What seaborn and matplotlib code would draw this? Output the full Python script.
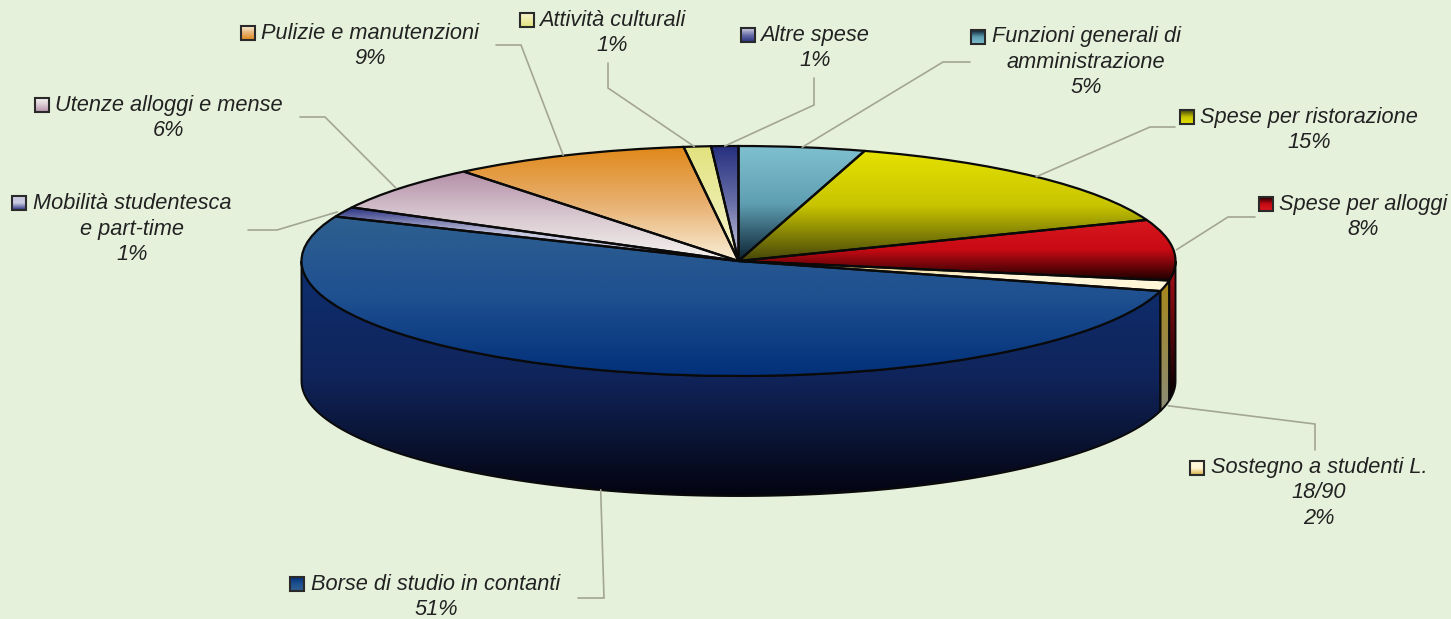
import numpy as np
import matplotlib
matplotlib.use("Agg")
import matplotlib.pyplot as plt
from matplotlib.patches import PathPatch, Rectangle
from matplotlib.path import Path
import seaborn as sns

# ---- data (clockwise from 12 o'clock) ----
names = ["Funzioni generali di\namministrazione", "Spese per ristorazione", "Spese per alloggi",
         "Sostegno a studenti L.\n18/90", "Borse di studio in contanti",
         "Mobilità studentesca\ne part-time", "Utenze alloggi e mense",
         "Pulizie e manutenzioni", "Attività culturali", "Altre spese"]
shown_pct = ["5%", "15%", "8%", "2%", "51%", "1%", "6%", "9%", "1%", "1%"]
values = [4.65, 14.5, 8.5, 1.5, 52.0, 1.4, 6.45, 8.8, 1.0, 1.0]

top_colors = [("#7FC0D0", "#5F9FB2", "#0A2030"), ("#E6E200", "#C8C400", "#45450A"),
              ("#D81820", "#C80A14", "#1E0000"), ("#D8AE40", "#FFF6D8", "#FFF6D8"),
              ("#2F6090", "#1F5090", "#02307A"), ("#27307F", "#C8C8E0", "#C8C8E0"),
              ("#B48FA8", "#D8C8D0", "#F6F5F0"), ("#E08818", "#E8B070", "#F8EFD8"),
              ("#E2E27E", "#ECECA8", "#F8F5D0"), ("#27307F", "#6A70A8", "#D0D0E4")]
side_colors = [("#7FC0D0", "#0A2030"), ("#E6E200", "#45450A"), ("#B01018", "#000000"),
               ("#A88818", "#8C8C78"), ("#0E2F70", "#10245A", "#040410"), ("#27307F", "#000000"),
               ("#B48FA8", "#000000"), ("#E08818", "#000000"), ("#E2E27E", "#000000"),
               ("#27307F", "#000000")]

# ---- layout (pixels of the 1451x619 picture) ----
W, H = 1451, 619
CX, CY, RX, RY, DEPTH = 738.5, 261, 437, 115, 120
BG = "#E6F1DB"
TEXT = "#222222"
LEAD = "#A3A595"
label_xy = [(1086, 62), (1309, 130), (1363, 217), (1319, 493), (436, 597),
            (132, 229), (169, 118), (370, 46), (612, 33), (815, 48)]
key_xy = [(971, 37), (1180, 117), (1259, 204), (1190, 468), (290, 584),
          (12, 203), (35, 105), (241, 33), (520, 20), (741, 35)]
bends = [[(943, 62), (970, 62)], [(1150, 127), (1175, 127)], [(1228, 217), (1255, 217)],
         [(1315, 424), (1315, 450)], [(604, 598), (578, 598)],
         [(277, 230), (248, 230)], [(325, 117), (300, 117)], [(521, 45), (496, 45)],
         [(608, 88), (608, 63)], [(814, 105), (814, 78)]]
leader_dx = [0, 0, 3, 3, 4, -6, -5, -4, -3, 0]

sns.set_style("white")
plt.rcParams["font.family"] = ["Liberation Sans", "DejaVu Sans"]

fig = plt.figure(figsize=(W / 100, H / 100), dpi=100, facecolor=BG)
ax = fig.add_axes([0, 0, 1, 1], facecolor=BG)
ax.axis("off")

wedges, _ = ax.pie(values, startangle=90, counterclock=False, radius=1, center=(0, 0),
                   wedgeprops=dict(facecolor="none", edgecolor="#0A0A0A", linewidth=1.6, zorder=5))
ax.set_aspect("auto")
ax.set_xlim(-CX / RX, (W - CX) / RX)
ax.set_ylim(-(H - CY) / RY, CY / RY)
ax.autoscale(False)
ax.axis("off")
depth = DEPTH / RY


def gradient(axis, colors, box, clip):
    cmap = sns.blend_palette(list(colors), as_cmap=True)
    im = axis.imshow(np.linspace(0, 1, 256)[:, None], cmap=cmap, aspect="auto",
                     extent=(box.x0, box.x1, box.y0, box.y1), interpolation="bilinear", zorder=clip.get_zorder() - 1)
    im.set_clip_path(clip)


# cumulative clockwise angles from 12 o'clock, derived from the values
edges = np.concatenate([[0], np.cumsum(values)]) / np.sum(values) * 360.0

# extruded side, only for the part facing the viewer
for i in range(len(values)):
    a0, a1 = max(edges[i], 90.0), min(edges[i + 1], 270.0)
    if a1 <= a0:
        continue
    t = np.radians(np.linspace(a0, a1, 120))
    x, y = np.sin(t), np.cos(t)
    verts = np.column_stack([np.r_[x, x[::-1]], np.r_[y, y[::-1] - depth]])
    side = PathPatch(Path(np.vstack([verts, verts[:1]]), closed=True), facecolor="none",
                     edgecolor="#0A0A0A", linewidth=1.4, zorder=3)
    ax.add_patch(side)
    gradient(ax, side_colors[i], side.get_path().get_extents(), side)

# top face gradients, clipped by the pie's wedges
for wedge, cols in zip(wedges, top_colors):
    gradient(ax, cols, wedge.get_path().get_extents(wedge.get_patch_transform()), wedge)

# overlay in picture pixels for labels, keys and leaders
ov = fig.add_axes([0, 0, 1, 1], facecolor="none")
ov.set_xlim(0, W)
ov.set_ylim(H, 0)
ov.autoscale(False)
ov.axis("off")

mid = (edges[:-1] + edges[1:]) / 2
for i, name in enumerate(names):
    t = np.radians(mid[i])
    px = CX + RX * np.sin(t) + leader_dx[i]
    py = CY - RY * np.cos(t)
    if 90 < mid[i] < 270:
        py += DEPTH          # leader leaves from the bottom rim of the side wall
    pts = [(px, py)] + bends[i]
    ov.plot(*zip(*pts), color=LEAD, lw=1.2, solid_joinstyle="miter", zorder=2)

    ov.text(*label_xy[i], name + "\n" + shown_pct[i], ha="center", va="center", style="italic",
            fontsize=15.7, color=TEXT, linespacing=1.27, zorder=6)

    kx, ky = key_xy[i]
    key = Rectangle((kx, ky - 7), 14, 14, facecolor="none", edgecolor="#2A2A2A", linewidth=1.5, zorder=6)
    ov.add_patch(key)
    ov.imshow(np.linspace(0, 1, 64)[:, None], cmap=sns.blend_palette(list(top_colors[i]), as_cmap=True),
              aspect="auto", extent=(kx, kx + 14, ky + 7, ky - 7), origin="lower", zorder=5)

ov.set_xlim(0, W)
ov.set_ylim(H, 0)
fig.savefig("out.png", dpi=100, facecolor=BG)
